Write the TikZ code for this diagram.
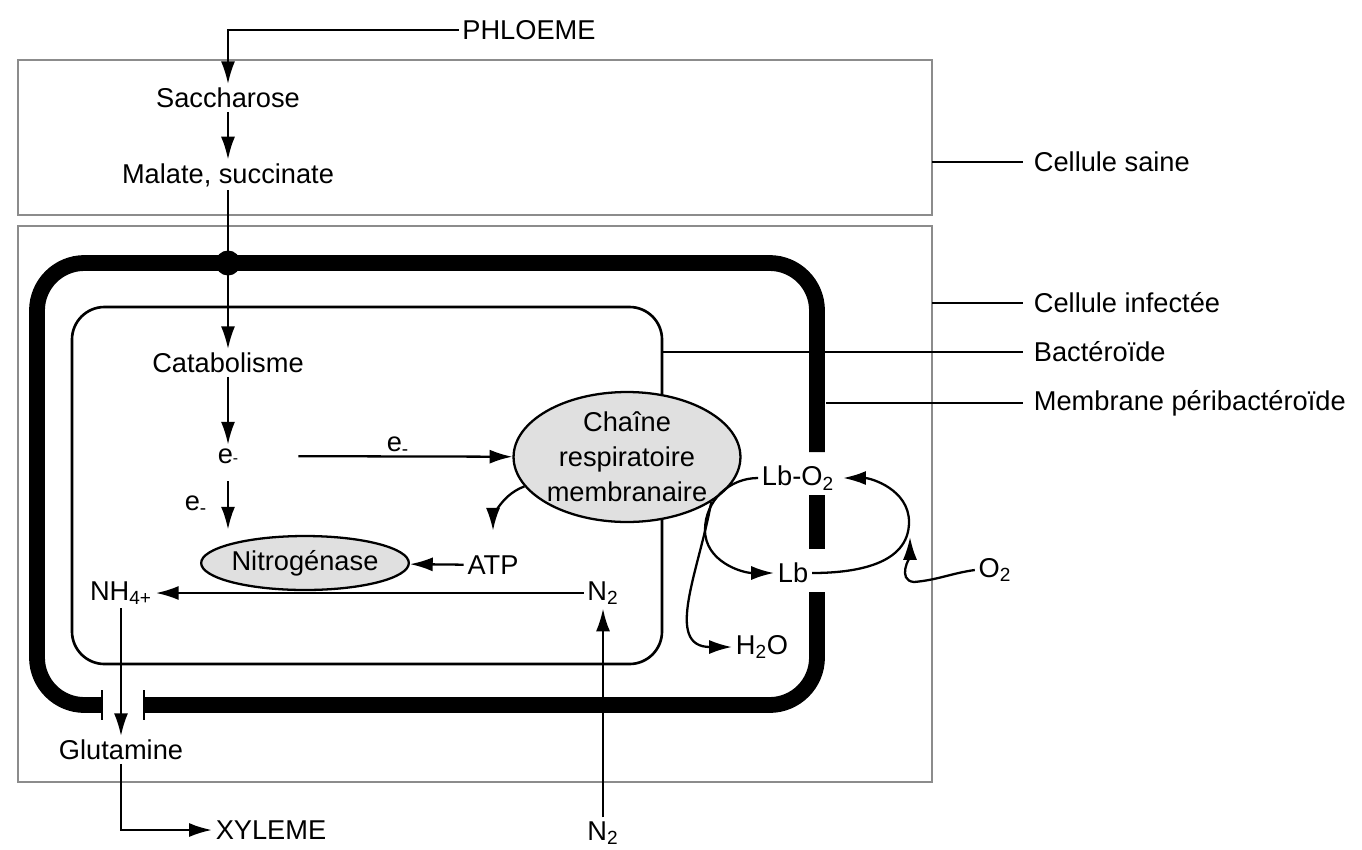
\documentclass[tikz,border=0pt]{standalone}
\usepackage{fontspec}
\setmainfont{Liberation Sans}
\usetikzlibrary{arrows.meta,shapes.geometric}

\begin{document}
\begin{tikzpicture}[x=0.02cm, y=0.02cm,
		every node/.style={font=\fontsize{15.5}{20}\selectfont, inner sep=2pt},
		flow/.style={-{Latex[length=13pt,width=8pt]}, line width=1.3pt},
		pin/.style={line width=1.2pt},
		cellbox/.style={draw=black!45, line width=0.7pt},
		memb/.style={line width=9pt, rounded corners=0.95cm},
		enz/.style={ellipse, draw, line width=1.3pt, fill=black!12, inner sep=0pt, align=center},
		side/.style={anchor=west, inner sep=6pt}]
			\useasboundingbox (0,0) rectangle (1362,-849);
			
			\draw[cellbox] (18,-60) rectangle (932,-215);
			\draw[cellbox] (18,-226) rectangle (932,-782);
			
			\draw[memb] (817,-452) -- (817,-263) -- (37,-263) -- (37,-705) -- (102,-705);
			\draw[memb] (144,-705) -- (817,-705) -- (817,-592);
			\draw[memb] (817,-495) -- (817,-549);
			\draw[pin] (102,-690) -- (102,-720);
			\draw[pin] (144,-690) -- (144,-720);
			
			\draw[line width=1.5pt, rounded corners=0.65cm] (72,-307) rectangle (662,-664);
			
			\node (phloeme) at (529,-30){PHLOEME};
			\node (sacch)   at (228,-98){Saccharose};
			\node (malate)  at (228,-175){Malate, succinate};
			\node[circle, fill, inner sep=0pt, minimum size=0.5cm] (pore) at (228,-263){};
			\node (catab)   at (228,-363){Catabolisme};
			\node (elec)    at (228,-456){e{\small -}};
			\node (elab1)   at (398,-446){e\textsubscript{-}};
			\node (elab2)   at (196,-505){e\textsubscript{-}};
			
			\node[enz, minimum width=4.44cm, minimum height=2.6cm] (chain) at (627,-457){Chaîne\\respiratoire\\membranaire};
			\node[enz, minimum width=3.96cm, minimum height=1.08cm] (nitro) at (305,-563){Nitrogénase};
			
			\node (atp)   at (493,-565){ATP};
			\node (nh4)   at (121,-593){NH\textsubscript{4+}};
			\node (n2in)  at (603,-593){N\textsubscript{2}};
			\node (n2out) at (603,-833){N\textsubscript{2}};
			\node (glut)  at (121,-750){Glutamine};
			\node (xyl)   at (271,-830){XYLEME};
			
			\node (lbo2) at (798,-478){Lb-O\textsubscript{2}};
			\node (lb)   at (793,-573){Lb};
			\node (h2o)  at (762,-647){H\textsubscript{2}O};
			\node (o2)   at (995,-570){O\textsubscript{2}};
			\coordinate (lbbend) at (705,-530);
			\coordinate (loopr)  at (909,-522);
			\coordinate (o2kink) at (914,-582);
			\coordinate (o2tip)  at (910,-537);
			
			\node[side] (saine)  at (1023,-162){Cellule saine};
			\node[side] (infect) at (1023,-303){Cellule infectée};
			\node[side] (bact)   at (1023,-352){Bactéroïde};
			\node[side] (peri)   at (1023,-403){Membrane péribactéroïde};
			\coordinate (sainepin) at (932,-162);
			\coordinate (infpin)   at (932,-303);
			\coordinate (bactpin)  at (662,-352);
			\coordinate (peripin)  at (826,-403);
			
			\draw[flow] (phloeme.west) -| (sacch.north);
			\draw[flow] (sacch) -- (malate);
			\draw[flow] (malate) -- (catab);
			\draw[flow] (catab) -- (elec);
			\draw[flow, shorten <=8pt, shorten >=3pt] (elec) -- (elec |- nitro.north);
			\draw[flow, shorten <=32pt] (elec) -- (chain);
			\draw[flow, shorten >=12pt] (chain.196) to[out=200, in=90] (atp.north);
			\draw[flow] (atp) -- (nitro);
			\draw[flow] (n2in) -- (nh4);
			\draw[flow] (n2out) -- (n2in);
			\draw[flow] (nh4) -- (glut);
			\draw[flow] (glut) |- (xyl);
			
			\draw[flow] (lbo2.west) to[out=180, in=90] (lbbend) to[out=-90, in=180] (lb.west);
			\draw[flow] (chain.-28) to[out=-100, in=180, looseness=1.2] (h2o.west);
			\draw[flow, shorten >=3pt] (lb.east) to[out=0, in=-90] (loopr) to[out=90, in=0] (lbo2.east);
			\draw[flow] (o2.west) to[out=188, in=5] (o2kink) to[out=175, in=-90] (o2tip);
			
			\draw[pin] (sainepin) -- (saine.west);
			\draw[pin] (infpin) -- (infect.west);
			\draw[pin] (bactpin) -- (bact.west);
			\draw[pin] (peripin) -- (peri.west);
		\end{tikzpicture}
\end{document}
